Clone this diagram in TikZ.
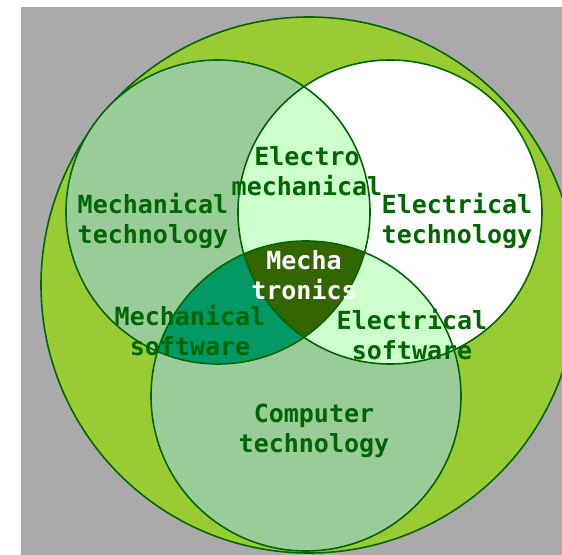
\documentclass[tikz,border=0pt]{standalone}
\usepackage{fontspec}
\newfontfamily\vennfont{DejaVu Sans Mono}
\definecolor{bggray}{HTML}{AAAAAA}
\definecolor{outergreen}{HTML}{99CC33}
\definecolor{softgreen}{HTML}{99CC99}
\definecolor{palegreen}{HTML}{CCFFCC}
\definecolor{seagreen}{HTML}{009966}
\definecolor{coregreen}{HTML}{336600}
\definecolor{linegreen}{HTML}{006600}
\begin{document}
\begin{tikzpicture}[x=0.5pt,y=-0.5pt,
    rim/.style={draw=linegreen,line width=0.8pt},
    lbl/.style={text=linegreen,font=\vennfont\bfseries\fontsize{12.5}{15}\selectfont,align=center,inner sep=0pt}]
            \useasboundingbox (0,0) rectangle (562,555);
            \clip (0,0) rectangle (562,555);
            \fill[white] (0,0) rectangle (562,555);
            \fill[bggray] (21,7) rectangle (562,555);
            % centres of the circles
            \coordinate (outer) at (309,285);
            \coordinate (mech) at (218,212);
            \coordinate (elec) at (390,212);
            \coordinate (comp) at (306,396);
            \fill[outergreen,rim] (outer) circle(268);
            \fill[softgreen] (mech) circle(152);
            \fill[white] (elec) circle(152);
            \fill[softgreen] (comp) circle(155);
            % overlaps
            \begin{scope}
                \clip (mech) circle(152);
                \fill[palegreen] (elec) circle(152);
                \fill[seagreen] (comp) circle(155);
                \clip (elec) circle(152);
                \fill[coregreen] (comp) circle(155);
            \end{scope}
            \begin{scope}
                \clip (elec) circle(152);
                \clip (comp) circle(155);
                \fill[palegreen] (comp) circle(155);
                \clip (mech) circle(152);
                \fill[coregreen] (comp) circle(155);
            \end{scope}
            \draw[rim] (mech) circle(152);
            \draw[rim] (elec) circle(152);
            \draw[rim] (comp) circle(155);
            % labels
            \node[lbl] (mechtech) at (153,221) {Mechanical\\technology};
            \node[lbl] (electech) at (457,221) {Electrical\\technology};
            \node[lbl] (electromech) at (307,171) {Electro\\mechanical};
            \node[lbl,text=white] (mechatronics) at (304,275) {Mecha\\tronics};
            \node[lbl] (mechsoft) at (190,331) {Mechanical\\software};
            \node[lbl] (elecsoft) at (412,335) {Electrical\\software};
            \node[lbl] (comptech) at (314,431) {Computer\\technology};
        \end{tikzpicture}
\end{document}
